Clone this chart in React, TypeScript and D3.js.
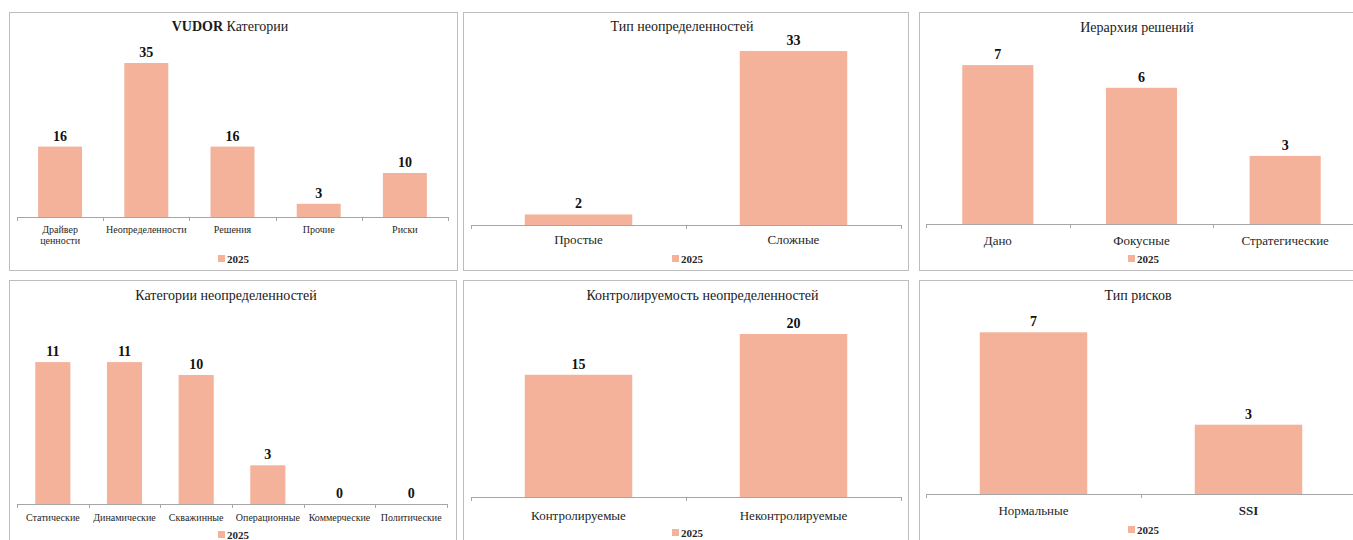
import { useEffect, useRef } from "react";
import * as d3 from "d3";

// --- Данные
const seriesName = "2025";

const vudorCategories = ["Драйвер ценности", "Неопределенности", "Решения", "Прочие", "Риски"];
const vudorValues = [16, 35, 16, 3, 10];

const typeCategories = ["Простые", "Сложные"];
const typeValues = [2, 33];

const hierarchyCategories = ["Дано", "Фокусные", "Стратегические"];
const hierarchyValues = [7, 6, 3];

const uncertaintyCategories = ["Статические", "Динамические", "Скважинные", "Операционные", "Коммерческие", "Политические"];
const uncertaintyValues = [11, 11, 10, 3, 0, 0];

const controlCategories = ["Контролируемые", "Неконтролируемые"];
const controlValues = [15, 20];

const riskCategories = ["Нормальные", "SSI"];
const riskValues = [7, 3];

const BAR = "#F4B29B";
const FONT = "'Liberation Serif', 'Times New Roman', serif";

type Panel = {
  title: [string, boolean][];
  categories: string[];
  values: number[];
  box: [number, number, number, number];
  titleX: number;
  titleY: number;
  axisX: [number, number];
  axisY: number;
  yMax: number;
  plotTop: number;
  pad: number;
  labelSize: number;
  labelY: number;
  wrap?: boolean;
  bold?: string[];
  legendX: number;
  legendY: number;
};

const panels: Panel[] = [
  {
    title: [["VUDOR", true], [" Категории", false]],
    categories: vudorCategories, values: vudorValues,
    box: [9, 12, 448, 258], titleX: 230, titleY: 31,
    axisX: [17, 448], axisY: 217, yMax: 40, plotTop: 41, pad: 0.49,
    labelSize: 10, labelY: 233, wrap: true, legendX: 233, legendY: 263,
  },
  {
    title: [["Тип неопределенностей", false]],
    categories: typeCategories, values: typeValues,
    box: [463, 12, 445, 258], titleX: 682, titleY: 30.5,
    axisX: [471, 901], axisY: 225, yMax: 35, plotTop: 40.5, pad: 0.5,
    labelSize: 13, labelY: 244, legendX: 687, legendY: 263,
  },
  {
    title: [["Иерархия решений", false]],
    categories: hierarchyCategories, values: hierarchyValues,
    box: [919, 12, 445, 258], titleX: 1137, titleY: 32,
    axisX: [926, 1357], axisY: 224, yMax: 8, plotTop: 42.4, pad: 0.505,
    labelSize: 13, labelY: 245, legendX: 1143, legendY: 263,
  },
  {
    title: [["Категории неопределенностей", false]],
    categories: uncertaintyCategories, values: uncertaintyValues,
    box: [9, 280, 447, 270], titleX: 226, titleY: 300,
    axisX: [17, 447], axisY: 504, yMax: 12, plotTop: 349.2, pad: 0.51,
    labelSize: 10, labelY: 521, legendX: 233, legendY: 539,
  },
  {
    title: [["Контролируемость неопределенностей", false]],
    categories: controlCategories, values: controlValues,
    box: [463, 280, 445, 270], titleX: 702.5, titleY: 300,
    axisX: [471, 901], axisY: 497, yMax: 25, plotTop: 293.25, pad: 0.5,
    labelSize: 13, labelY: 520, legendX: 687, legendY: 537,
  },
  {
    title: [["Тип рисков", false]],
    categories: riskCategories, values: riskValues,
    box: [919, 280, 445, 270], titleX: 1138, titleY: 300,
    axisX: [926, 1356], axisY: 494, yMax: 8, plotTop: 309.2, pad: 0.5,
    labelSize: 13, labelY: 515, bold: ["SSI"], legendX: 1143, legendY: 534,
  },
];

export default function App() {
  const ref = useRef<SVGSVGElement>(null);

  useEffect(() => {
    const svg = d3.select(ref.current).style("font-family", FONT);
    svg.selectAll("*").remove();

    svg.append("rect").attr("width", 1353).attr("height", 540).attr("fill", "#fff");

    panels.forEach(p => {
      const g = svg.append("g");
      const [bx, by, bw, bh] = p.box;

      // рамка
      g.append("rect")
        .attr("x", bx + 0.5).attr("y", by + 0.5)
        .attr("width", bw).attr("height", bh)
        .attr("fill", "#fff").attr("stroke", "#BDBDBD");

      // заголовок
      const t = g.append("text")
        .attr("x", p.titleX).attr("y", p.titleY)
        .attr("text-anchor", "middle")
        .style("font-size", "14px")
        .attr("fill", "#1a1a1a");
      p.title.forEach(([s, b]) => t.append("tspan").style("font-weight", b ? "bold" : "normal").text(s));

      const x = d3.scaleBand<string>()
        .domain(p.categories)
        .range(p.axisX)
        .paddingInner(p.pad)
        .paddingOuter(p.pad / 2);

      const y = d3.scaleLinear().domain([0, p.yMax]).range([p.axisY, p.plotTop]);

      // столбцы
      g.selectAll("rect.bar")
        .data(p.values)
        .join("rect")
        .attr("class", "bar")
        .attr("x", (_, i) => x(p.categories[i])!)
        .attr("width", x.bandwidth())
        .attr("y", d => y(d))
        .attr("height", d => y(0) - y(d))
        .attr("fill", BAR);

      // подписи значений
      g.selectAll("text.val")
        .data(p.values)
        .join("text")
        .attr("class", "val")
        .attr("x", (_, i) => x(p.categories[i])! + x.bandwidth() / 2)
        .attr("y", d => y(d) - 6)
        .attr("text-anchor", "middle")
        .style("font-size", "14px")
        .style("font-weight", "bold")
        .attr("fill", "#111")
        .text(d => d);

      // ось
      const step = x.step();
      g.append("line")
        .attr("x1", p.axisX[0]).attr("x2", p.axisX[1])
        .attr("y1", p.axisY + 0.5).attr("y2", p.axisY + 0.5)
        .attr("stroke", "#A6A6A6");
      d3.range(p.categories.length + 1).forEach(i => {
        const tx = Math.round(p.axisX[0] + i * step) + 0.5;
        g.append("line")
          .attr("x1", tx).attr("x2", tx)
          .attr("y1", p.axisY).attr("y2", p.axisY + 4)
          .attr("stroke", "#A6A6A6");
      });

      // подписи категорий
      p.categories.forEach(c => {
        const cx = x(c)! + x.bandwidth() / 2;
        const lines = p.wrap && c.includes(" ") ? c.split(" ") : [c];
        const lt = g.append("text")
          .attr("x", cx).attr("y", p.labelY)
          .attr("text-anchor", "middle")
          .style("font-size", p.labelSize + "px")
          .style("font-weight", p.bold && p.bold.includes(c) ? "bold" : "normal")
          .attr("fill", "#262626");
        lines.forEach((l, k) => lt.append("tspan").attr("x", cx).attr("dy", k ? p.labelSize * 1.1 : 0).text(l));
      });

      // легенда
      g.append("rect")
        .attr("x", p.legendX - 15).attr("y", p.legendY - 8)
        .attr("width", 7).attr("height", 7)
        .attr("fill", BAR);
      g.append("text")
        .attr("x", p.legendX - 6).attr("y", p.legendY)
        .style("font-size", "11px")
        .style("font-weight", "bold")
        .attr("fill", "#262626")
        .text(seriesName);
    });
  }, []);

  return (
    <svg
      ref={ref}
      width={1353}
      height={540}
      style={{ position: "absolute", left: 0, top: 0, display: "block" }}
    />
  );
}
